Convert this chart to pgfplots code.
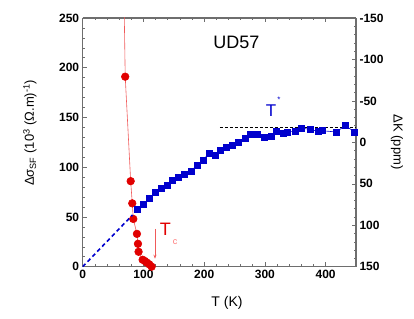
\documentclass[border=0pt]{standalone}
\usepackage{fontspec}
\setmainfont{Liberation Sans}
\usepackage{pgfplots}
\pgfplotsset{compat=1.18}
\usetikzlibrary{arrows.meta}
\definecolor{dred}{RGB}{225,0,0}
\definecolor{lred}{RGB}{240,90,90}
\definecolor{pk}{RGB}{255,120,120}
\definecolor{dblue}{RGB}{0,0,205}
\definecolor{axgray}{RGB}{110,110,110}
\pgfplotstableread{
T ds
67.3 300
70 191
79 86
81.6 63.7
83.3 48
89.3 33
91 23
92 15
98.7 7
102.5 5.7
106 4
109.6 2.4
113.5 0
}\redtab
\pgfplotstableread{
T dK
90 80.4
100 75.2
110 67.6
120 60.7
129 55.2
139 51.8
148 46.3
158 42.2
168 38.6
178 34.9
188 27.7
198 21.4
208 13.2
218 15.6
227 10.1
236 6.5
247 3.6
257 0
267 -4.3
276 -9.8
287 -10.2
299 -6
310 -7.8
319 -12.8
330 -11.4
337 -12.5
350 -13.4
360 -17.3
374 -15.6
388 -13.2
394 -14
418 -12.5
432 -20.4
448 -12.5
}\bluetab
\begin{document}
\begin{tikzpicture}
\useasboundingbox (-82.7pt,-51.3pt) rectangle (331.3pt,266.7pt);
\pgfplotsset{
  common/.style={
    scale only axis, width=273.3pt, height=248.7pt,
    xmin=0, xmax=450,
    axis line style={axgray, line width=1.1pt},
    every tick/.style={axgray, line width=0.6pt},
    tick align=inside,
    major tick length=4.5pt, minor tick length=2.5pt,
    /pgf/number format/assume math mode=true,
    ticklabel style={font=\bfseries\fontsize{12}{12}\selectfont},
    label style={font=\fontsize{13}{13}\selectfont},
  }
}
\begin{axis}[common,
  ymin=0, ymax=250,
  axis y line*=left,
  xtick={0,100,...,400}, minor x tick num=4,
  ytick={0,50,...,250}, minor y tick num=4,
  xlabel={T (K)},
  xlabel style={at={(axis description cs:0.528,-0.146)}, anchor=center, font=\fontsize{14}{14}\selectfont},
  ylabel={Δσ\textsubscript{SF} (10\textsuperscript{3} (Ω.m)\textsuperscript{-1})},
  ylabel style={at={(axis description cs:-0.193,0.538)}, anchor=center},
]
\addplot[lred, line width=0.6pt, mark=*, mark size=3.8pt, mark options={draw=dred, fill=dred, solid}]
  table[x=T, y=ds] {\redtab};
\draw[-{Stealth[length=4pt,width=3pt]}, lred, line width=0.6pt] (axis cs:119,38) -- (axis cs:119,8);
\node[dred, font=\fontsize{18}{18}\selectfont] at (axis cs:136,37.9) {T};
\node[pk, font=\fontsize{9}{9}\selectfont] at (axis cs:152,24.8) {c};
\node[font=\fontsize{18}{18}\selectfont] at (axis cs:253,225.3) {UD57};
\node[dblue, font=\fontsize{17}{17}\selectfont] at (axis cs:310,156.5) {T};
\node[dblue, font=\fontsize{8}{8}\selectfont] at (axis cs:323,167.5) {*};
\end{axis}
\begin{axis}[common,
  ymin=-150, ymax=150, y dir=reverse,
  axis x line=none, axis y line*=right,
  ytick={-150,-100,...,150}, minor y tick num=4,
  ylabel={ΔK (ppm)},
  ylabel style={at={(axis description cs:1.150,0.501)}, anchor=center, rotate=180},
]
\addplot[dblue, line width=1.6pt, dash pattern=on 4pt off 3pt] coordinates {(0,150) (82,87.6)};
\addplot[black, line width=0.6pt, dash pattern=on 3pt off 2pt] coordinates {(226,-18) (450,-18)};
\addplot[dblue, line width=0.6pt, mark=square*, mark size=3pt, mark options={solid, fill=dblue}]
  table[x=T, y=dK] {\bluetab};
\end{axis}
\end{tikzpicture}
\end{document}
